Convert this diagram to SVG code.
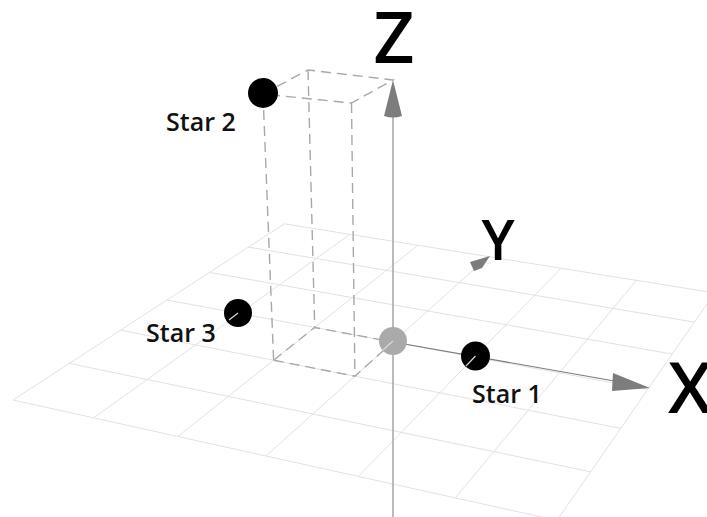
<svg xmlns="http://www.w3.org/2000/svg" width="707" height="517" viewBox="0 0 707 517">
<style>
.grid{stroke:#e2e2e2;stroke-width:1;fill:none}
.dash{stroke:#a8a8a8;stroke-width:1.4;stroke-dasharray:10 6;fill:none}
.axis{stroke:#aaaaaa;stroke-width:1.6;fill:none}
.xaxis{stroke:#7a7a7a;stroke-width:1.1;fill:none}
.head{fill:#7d7d7d}
.star{fill:#000}
.lbl{font-family:"Open Sans","Liberation Sans",sans-serif;font-weight:600;font-size:25px;fill:#111}
.big{font-family:"Open Sans","Liberation Sans",sans-serif;font-weight:600;fill:#000}
.hl{stroke:#d8d8d8;stroke-width:1.2}
</style>
<rect width="707" height="517" fill="#fff"/>
<g id="grid">
<line class="grid" x1="13" y1="400" x2="557" y2="520.4"/>
<line class="grid" x1="69.41" y1="363.37" x2="590.68" y2="471.78"/>
<line class="grid" x1="120.51" y1="330.19" x2="620.76" y2="428.36"/>
<line class="grid" x1="167" y1="300" x2="647.78" y2="389.35"/>
<line class="grid" x1="209.49" y1="272.42" x2="672.19" y2="354.1"/>
<line class="grid" x1="248.47" y1="247.11" x2="694.37" y2="322.1"/>
<line class="grid" x1="284.36" y1="223.81" x2="714.57" y2="292.93"/>
<line class="grid" x1="13" y1="400" x2="284.36" y2="223.81"/>
<line class="grid" x1="93.58" y1="417.84" x2="350.02" y2="234.36"/>
<line class="grid" x1="177.83" y1="436.48" x2="417.92" y2="245.26"/>
<line class="grid" x1="266" y1="456" x2="488.2" y2="256.56"/>
<line class="grid" x1="358.38" y1="476.44" x2="560.98" y2="268.25"/>
<line class="grid" x1="455.27" y1="497.89" x2="636.39" y2="280.36"/>
<line class="grid" x1="557" y1="520.4" x2="714.57" y2="292.93"/>
</g>
<g id="connectors">
<g id="box">
<path class="dash" d="M263,94 L308,70 L393,80 L351.5,103 Z"/>
<line class="dash" x1="263" y1="94" x2="273.6" y2="360.2"/>
<line class="dash" x1="308" y1="70" x2="314.7" y2="327.5"/>
<line class="dash" x1="351.5" y1="103" x2="354.9" y2="376.2"/>
<path class="dash" d="M273.6,360.2 L314.7,327.5 L393,342 L354.9,376.2 Z"/>
</g>
<g id="z-axis">
<line class="axis" x1="393" y1="517" x2="393" y2="112"/>
<path class="head" d="M393,80 L402,116 Q393,119 384,116 Z"/>
</g>
<g id="x-axis">
<line class="xaxis" x1="393" y1="342" x2="620" y2="382"/>
<path class="head" d="M650,388 L613,373 L612,391 Z"/>
</g>
<g id="y-axis">
<path class="head" d="M490,256 L470,262 L474,271 L482,268 Z"/>
</g>
</g>
<g id="origin">
<circle cx="393" cy="341" r="14" fill="#aaaaaa"/>
<line class="hl" x1="393" y1="341" x2="383" y2="350"/>
</g>
<g id="star1">
<circle class="star" cx="475.5" cy="356" r="14.5"/>
<line class="hl" x1="475.5" y1="356" x2="466" y2="366"/>
<text class="lbl" x="472" y="403">Star 1</text>
</g>
<g id="star2">
<circle class="star" cx="263" cy="93" r="15"/>
<text class="lbl" x="166" y="131">Star 2</text>
</g>
<g id="star3">
<circle class="star" cx="238" cy="313" r="14"/>
<line class="hl" x1="238" y1="313" x2="229" y2="320"/>
<text class="lbl" x="146" y="342">Star 3</text>
</g>
<g id="labels">
<text class="big" x="394" y="63" font-size="71" text-anchor="middle">Z</text>
<text class="big" x="498" y="260" font-size="56" text-anchor="middle">Y</text>
<text class="big" x="668" y="413" font-size="71">X</text>
</g>
</svg>
